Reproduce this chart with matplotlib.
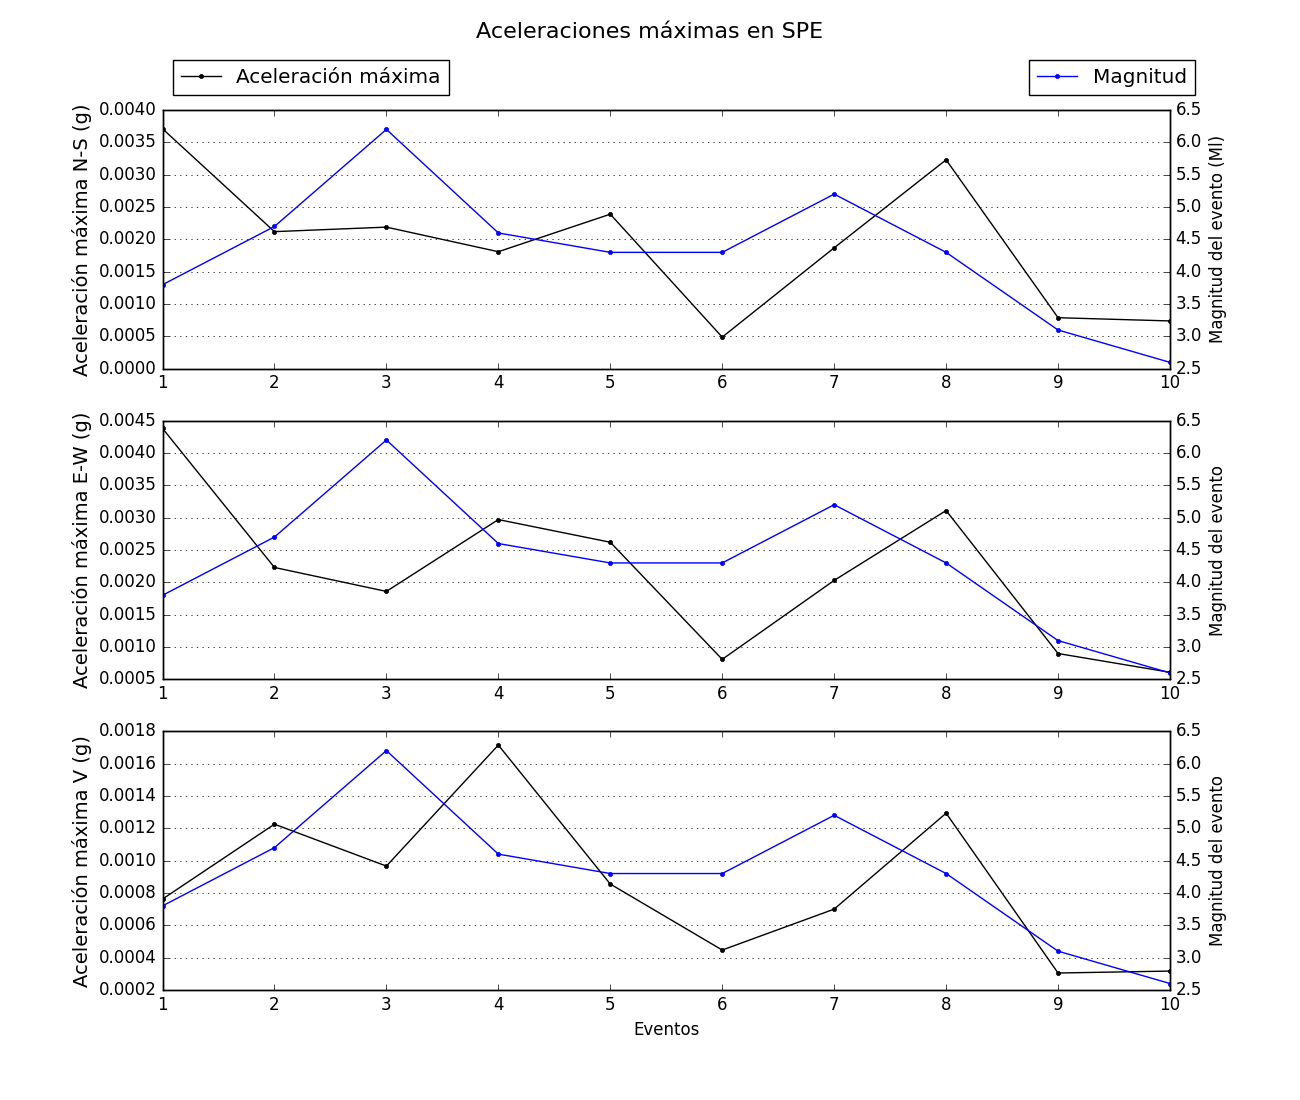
import matplotlib
matplotlib.use('Agg')
import matplotlib.pyplot as plt

plt.style.use('classic')

# eventos
eventos = [1, 2, 3, 4, 5, 6, 7, 8, 9, 10]
magnitud = [3.8, 4.7, 6.2, 4.6, 4.3, 4.3, 5.2, 4.3, 3.1, 2.6]

# aceleraciones maximas por componente (g)
acel_ns = [0.00371, 0.00212, 0.00219, 0.00181, 0.00239, 0.00049, 0.00187, 0.00323, 0.00079, 0.00074]
acel_ew = [0.00438, 0.00223, 0.00186, 0.00297, 0.00262, 0.00081, 0.00203, 0.00311, 0.00090, 0.00061]
acel_v = [0.000762, 0.001225, 0.000966, 0.001714, 0.000855, 0.000447, 0.000700, 0.001293, 0.000305, 0.000317]

componentes = [acel_ns, acel_ew, acel_v]
etiquetas = ['Aceleración máxima N-S (g)', 'Aceleración máxima E-W (g)', 'Aceleración máxima V (g)']
etiquetas_mag = ['Magnitud del evento (Ml)', 'Magnitud del evento', 'Magnitud del evento']
limites = [(0, 0.004), (0.0005, 0.0045), (0.0002, 0.0018)]

fig = plt.figure(figsize=(13, 11), dpi=100)
fig.suptitle('Aceleraciones máximas en SPE', fontsize=16)

for i in range(3):
    ax = fig.add_subplot(3, 1, i + 1)
    l1, = ax.plot(eventos, componentes[i], 'k.-', label='Aceleración máxima')
    ax.set_ylim(limites[i])
    ax.set_xlim(1, 10)
    ax.set_xticks(eventos)
    ax.set_ylabel(etiquetas[i], fontsize=14)
    ax.yaxis.grid(True)
    ax2 = ax.twinx()
    l2, = ax2.plot(eventos, magnitud, 'b.-', label='Magnitud')
    ax2.set_ylim(2.5, 6.5)
    ax2.set_xlim(1, 10)
    ax2.set_ylabel(etiquetas_mag[i], fontsize=12)
    if i == 0:
        ax.legend(handles=[l1], loc='lower left', bbox_to_anchor=(0, 1.02), numpoints=1)
        ax2.legend(handles=[l2], loc='lower right', bbox_to_anchor=(1.035, 1.02), numpoints=1)
    if i == 2:
        ax.set_xlabel('Eventos')

plt.savefig('out.png', dpi=100)
